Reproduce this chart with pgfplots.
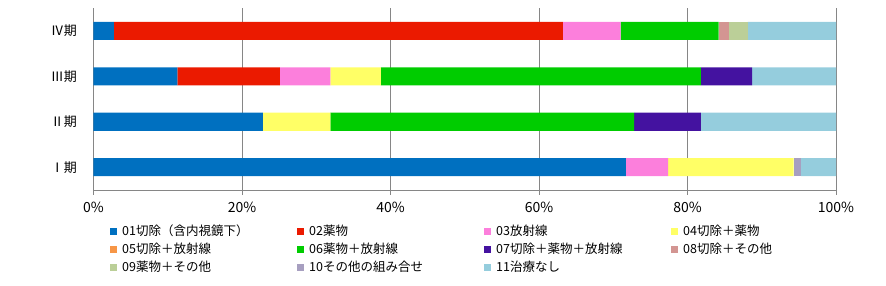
\documentclass[border=0pt]{standalone}
\usepackage{pgfplots}
\usepackage{pgfplotstable}
\pgfplotsset{compat=1.18}
\usepackage{fontspec}
\setmainfont{Noto Sans CJK JP}
\definecolor{c01}{HTML}{0070C0}
\definecolor{c02}{HTML}{EB1A00}
\definecolor{c03}{HTML}{FC7FDC}
\definecolor{c04}{HTML}{FFFF66}
\definecolor{c05}{HTML}{F79646}
\definecolor{c06}{HTML}{00CC00}
\definecolor{c07}{HTML}{4412A0}
\definecolor{c08}{HTML}{D39592}
\definecolor{c09}{HTML}{BBCF98}
\definecolor{c10}{HTML}{A79FC0}
\definecolor{c11}{HTML}{95CDDD}
\definecolor{gridgray}{HTML}{868686}
\pgfplotstableread{
y a01 a02 a03 a04 a05 a06 a07 a08 a09 a10 a11
0 71.7 0 5.7 16.9 0 0 0 0 0 1.0 4.7
1 22.8 0 0 9.1 0 40.9 9.0 0 0 0 18.2
2 11.3 13.8 6.8 6.8 0 43.1 6.9 0 0 0 11.3
3 2.75 60.45 7.8 0 0 13.2 0 1.4 2.5 0 11.9
}\datatable
\begin{document}
\begin{tikzpicture}
\begin{axis}[
  at={(0pt,0pt)}, anchor=south west,
  scale only axis, width=742.5pt, height=182pt,
  xbar stacked, bar width=18pt,
  xmin=0, xmax=100, ymin=-0.5, ymax=3.5,
  axis lines=left, axis line style={-, color=gridgray, line width=0.8pt},
  xtick={0,20,...,100},
  xticklabel={\pgfmathprintnumber{\tick}\%},
  /pgf/number format/assume math mode=true,
  xmajorgrids, grid style={gridgray, line width=0.8pt},
  tick align=outside,
  major tick length=5pt,
  tick style={gridgray, line width=0.8pt},
  ytick={0,1,2,3},
  yticklabels={Ⅰ期,Ⅱ期,Ⅲ期,Ⅳ期},
  ytick style={draw=none},
  minor ytick={-0.5,0.5,1.5,2.5,3.5},
  minor tick length=6pt,
  minor tick style={gridgray, line width=0.8pt},
  xticklabel style={font=\fontsize{14}{16}\selectfont, yshift=-4pt},
  yticklabel style={font=\fontsize{13}{15}\selectfont, xshift=-8pt},
  legend columns=4,
  legend cell align=left,
  legend image code/.code={\fill[#1] (0pt,-3.5pt) rectangle (7pt,3.5pt);},
  legend style={draw=none, at={(rel axis cs:0.0222,-0.18)}, anchor=north west,
    inner sep=0pt, column sep=0pt, row sep=0pt,
    nodes={font=\fontsize{12.5}{14}\selectfont, text width=170pt, inner xsep=5pt,
      text height=9.5pt, text depth=3pt, inner ysep=2.75pt, anchor=west}},
  every axis plot/.append style={draw=none},
]
\addplot[fill=c01] table[x=a01,y=y]{\datatable};
\addplot[fill=c02] table[x=a02,y=y]{\datatable};
\addplot[fill=c03] table[x=a03,y=y]{\datatable};
\addplot[fill=c04] table[x=a04,y=y]{\datatable};
\addplot[fill=c05] table[x=a05,y=y]{\datatable};
\addplot[fill=c06] table[x=a06,y=y]{\datatable};
\addplot[fill=c07] table[x=a07,y=y]{\datatable};
\addplot[fill=c08] table[x=a08,y=y]{\datatable};
\addplot[fill=c09] table[x=a09,y=y]{\datatable};
\addplot[fill=c10] table[x=a10,y=y]{\datatable};
\addplot[fill=c11] table[x=a11,y=y]{\datatable};
\legend{01切除（含内視鏡下）,02薬物,03放射線,04切除＋薬物,05切除＋放射線,06薬物＋放射線,07切除＋薬物＋放射線,08切除＋その他,09薬物＋その他,10その他の組み合せ,11治療なし}
\end{axis}
\useasboundingbox (-93.5pt,-96pt) rectangle (792.5pt,190pt);
\end{tikzpicture}
\end{document}
